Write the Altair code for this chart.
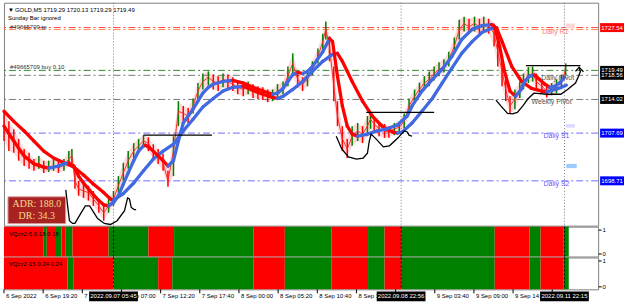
import altair as alt
import pandas as pd

# ---------------- data ----------------
# price samples (bar index of 5-minute bars, prices)
c_bar = [0, 8, 16, 24, 33, 41, 49, 57, 65, 73,
         81, 89, 98, 106, 111, 116, 122, 130, 138, 146,
         155, 163, 171, 179, 187, 195, 203, 212, 220, 228,
         236, 244, 252, 260, 268, 277, 285, 293, 301, 309,
         317, 325, 334, 342, 350, 358, 366, 374, 382, 391,
         399, 407, 415, 423, 431, 439, 447, 456, 464, 472,
         480, 488, 496, 504, 513, 521, 526, 532, 539, 545,
         553, 561, 569, 578, 586, 594, 599, 605, 613, 622,
         629, 638, 646, 654, 662, 671, 679, 687, 695, 703,
         711, 719, 727, 736, 744, 752, 760, 769, 777, 784,
         792, 801, 807, 814, 820, 827, 835, 843, 849, 857,
         864, 870, 879, 887, 895, 903, 911, 918]
c_close = [1709.0, 1707.1, 1706.2, 1704.3, 1703.0, 1702.5, 1701.5, 1702.1, 1701.1, 1701.3,
           1701.5, 1701.1, 1701.7, 1702.8, 1703.4, 1698.7, 1697.2, 1696.8, 1696.5, 1695.3,
           1694.0, 1692.7, 1694.0, 1695.3, 1697.8, 1700.2, 1702.5, 1704.3, 1705.3, 1706.2,
           1705.8, 1704.3, 1703.4, 1702.1, 1698.7, 1704.3, 1711.8, 1711.4, 1710.9, 1712.8,
           1715.6, 1717.4, 1718.2, 1717.4, 1717.1, 1717.8, 1717.4, 1716.9, 1716.3, 1715.9,
           1716.3, 1715.6, 1715.2, 1715.0, 1714.6, 1714.6, 1715.6, 1716.1, 1718.4, 1720.8,
           1717.8, 1716.9, 1717.8, 1719.9, 1722.1, 1724.9, 1727.2, 1724.0, 1716.5, 1710.9,
           1706.6, 1704.7, 1707.1, 1708.1, 1707.5, 1709.0, 1710.3, 1709.4, 1708.5, 1708.1,
           1707.9, 1708.5, 1708.8, 1709.9, 1712.8, 1714.6, 1715.9, 1717.1, 1717.8, 1718.9,
           1719.7, 1720.2, 1721.6, 1724.0, 1727.2, 1728.3, 1727.7, 1728.3, 1727.7, 1728.3,
           1727.9, 1726.4, 1723.0, 1719.3, 1715.9, 1712.8, 1714.1, 1715.9, 1717.4, 1718.6,
           1718.9, 1717.4, 1716.5, 1715.6, 1715.9, 1716.5, 1717.4, 1719.5]
c_hi = [1711.8, 1709.9, 1708.4, 1706.6, 1704.7, 1704.0, 1702.8, 1703.4, 1702.5, 1702.5,
        1702.8, 1702.5, 1702.8, 1704.3, 1704.7, 1701.5, 1698.7, 1698.3, 1697.8, 1696.8,
        1695.3, 1694.0, 1695.3, 1696.8, 1699.6, 1702.1, 1704.3, 1705.8, 1706.6, 1707.3,
        1706.9, 1705.6, 1704.7, 1703.8, 1700.6, 1707.1, 1713.7, 1712.8, 1712.4, 1714.2,
        1717.1, 1718.9, 1719.3, 1718.7, 1718.4, 1718.9, 1718.7, 1718.2, 1717.6, 1717.4,
        1717.4, 1716.9, 1716.5, 1716.3, 1715.9, 1715.9, 1716.9, 1717.4, 1720.2, 1722.7,
        1719.3, 1718.2, 1719.3, 1721.2, 1723.6, 1726.4, 1728.7, 1725.9, 1720.2, 1713.7,
        1709.0, 1706.6, 1709.0, 1709.6, 1709.0, 1710.9, 1711.4, 1710.7, 1709.8, 1709.4,
        1709.0, 1709.6, 1709.9, 1711.4, 1714.2, 1715.9, 1717.2, 1718.4, 1719.3, 1720.2,
        1721.0, 1721.6, 1723.0, 1725.7, 1729.0, 1729.6, 1729.2, 1729.6, 1729.2, 1729.6,
        1729.2, 1728.3, 1724.9, 1722.1, 1718.4, 1714.6, 1715.9, 1717.4, 1718.9, 1720.1,
        1720.2, 1718.9, 1717.8, 1716.9, 1717.1, 1717.8, 1718.7, 1720.8]
c_lo = [1706.2, 1704.3, 1704.0, 1702.5, 1701.5, 1701.0, 1700.6, 1701.0, 1700.2, 1700.4,
        1700.6, 1700.2, 1700.6, 1701.5, 1702.1, 1697.2, 1695.9, 1695.5, 1695.0, 1694.0,
        1692.7, 1691.2, 1692.7, 1694.0, 1696.5, 1698.7, 1701.0, 1702.8, 1704.0, 1705.1,
        1704.3, 1702.8, 1701.9, 1700.6, 1697.6, 1699.6, 1709.0, 1709.9, 1709.6, 1711.4,
        1714.1, 1715.9, 1716.7, 1715.9, 1715.6, 1716.3, 1715.9, 1715.6, 1715.0, 1714.6,
        1715.0, 1714.3, 1714.1, 1713.9, 1713.5, 1713.7, 1714.3, 1715.0, 1716.5, 1718.4,
        1716.3, 1715.6, 1716.5, 1718.6, 1720.8, 1723.1, 1725.3, 1721.2, 1713.7, 1709.0,
        1704.3, 1703.0, 1705.3, 1706.2, 1705.8, 1707.1, 1708.5, 1707.7, 1707.1, 1706.8,
        1706.8, 1707.3, 1707.7, 1708.6, 1711.3, 1713.3, 1714.6, 1715.7, 1716.5, 1717.6,
        1718.4, 1719.1, 1720.2, 1722.7, 1725.3, 1726.8, 1726.4, 1726.8, 1726.2, 1726.8,
        1726.4, 1724.0, 1720.2, 1716.5, 1713.7, 1711.4, 1712.2, 1714.3, 1715.9, 1717.1,
        1717.4, 1715.9, 1715.2, 1714.4, 1714.8, 1715.2, 1716.1, 1718.6]

# fast moving average (colour follows its slope)
f_bar = [0, 16, 33, 49, 65, 73, 81, 89, 98, 106,
         114, 122, 130, 138, 146, 155, 163, 171, 179, 187,
         195, 203, 212, 220, 228, 231, 236, 244, 252, 260,
         268, 277, 285, 293, 301, 309, 317, 325, 334, 342,
         358, 374, 391, 407, 423, 439, 447, 456, 464, 472,
         480, 488, 496, 504, 521, 532, 537, 545, 553, 561,
         569, 578, 586, 594, 610, 626, 643, 659, 667, 683,
         700, 716, 732, 748, 765, 781, 797, 802, 810, 818,
         827, 836, 845, 851, 859, 867, 875, 884, 892, 900,
         908, 916]
f_val = [1709.0, 1706.2, 1703.4, 1701.9, 1701.3, 1701.1, 1701.3, 1701.5, 1701.9, 1702.1,
         1701.5, 1699.6, 1698.3, 1697.2, 1696.1, 1695.0, 1694.2, 1694.0, 1694.6, 1695.9,
         1698.1, 1700.2, 1702.5, 1704.3, 1705.3, 1705.4, 1705.1, 1704.3, 1703.4, 1702.5,
         1701.5, 1702.5, 1706.2, 1709.6, 1710.9, 1712.2, 1713.7, 1715.2, 1716.3, 1716.9,
         1717.4, 1717.6, 1717.1, 1716.3, 1715.6, 1715.0, 1715.2, 1716.1, 1717.4, 1718.7,
         1719.1, 1718.9, 1719.3, 1720.2, 1723.0, 1725.5, 1724.9, 1718.4, 1712.8, 1709.0,
         1707.5, 1707.1, 1707.3, 1707.5, 1708.1, 1708.5, 1709.2, 1710.9, 1712.8, 1715.6,
         1717.8, 1719.7, 1722.1, 1725.3, 1727.2, 1727.9, 1728.1, 1727.7, 1724.0, 1719.3,
         1715.6, 1714.6, 1715.9, 1717.4, 1718.4, 1718.6, 1717.8, 1716.9, 1716.3, 1716.5,
         1717.1, 1718.2]

# slow moving average
s_bar = [0, 16, 33, 49, 65, 81, 98, 114, 130, 146,
         163, 174, 179, 195, 212, 228, 244, 260, 277, 293,
         309, 325, 342, 358, 374, 391, 407, 423, 439, 447,
         456, 472, 488, 504, 521, 537, 545, 553, 569, 586,
         602, 618, 635, 643, 651, 667, 683, 700, 716, 732,
         748, 765, 781, 797, 805, 814, 830, 846, 862, 879,
         887, 895, 911, 919]
s_val = [1711.8, 1709.9, 1708.1, 1706.2, 1704.3, 1703.0, 1702.1, 1701.3, 1699.8, 1698.1,
         1696.5, 1695.3, 1695.1, 1696.3, 1698.3, 1700.6, 1702.8, 1704.3, 1705.6, 1708.1,
         1710.3, 1712.6, 1714.2, 1715.6, 1716.3, 1716.5, 1715.7, 1715.0, 1714.4, 1714.2,
         1714.6, 1715.9, 1717.4, 1719.3, 1721.2, 1722.5, 1722.7, 1721.2, 1717.4, 1713.7,
         1710.9, 1709.0, 1707.9, 1707.7, 1707.9, 1709.6, 1711.8, 1714.2, 1717.1, 1719.9,
         1722.7, 1724.9, 1726.6, 1727.4, 1727.5, 1724.9, 1720.2, 1717.4, 1716.1, 1715.6,
         1715.5, 1715.7, 1716.3, 1716.7]

# horizontal levels
lvl_name = ["Daily R1", "TP", "Buy", "Daily Pivot", "Weekly Pivot", "Daily S1", "Daily S2"]
lvl_price = [1727.54, 1727.17, 1719.49, 1718.56, 1714.02, 1707.69, 1698.71]

# level captions on the chart
cap_text = ["Daily R1", "Daily Pivot", "Weekly Pivot", "Daily S1", "Daily S2"]
cap_bar = [901, 905, 895, 903, 903]
cap_price = [1726.8, 1718.0, 1713.5, 1707.1, 1698.1]

# price tags on the right scale
tag_price = [1727.54, 1719.49, 1718.56, 1714.02, 1707.69, 1698.71]
tag_kind = ["R1", "bid", "pivot", "weekly", "S1", "S2"]

# price scale ticks
y_ticks = [1728.40, 1724.60, 1720.80, 1717.00, 1713.20, 1709.50, 1705.70, 1701.90, 1698.10, 1694.40, 1690.60]

# hand drawings (trend-line objects)
d1_bar = [101, 104, 107, 112, 116, 125, 133, 140, 153, 164, 174, 185, 197, 202, 205, 208, 213, 216]
d1_val = [1697.0, 1694.0, 1691.2, 1690.7, 1690.7, 1692.5, 1694.0, 1694.0, 1691.6, 1690.7, 1690.5, 1691.2,
          1693.1, 1695.5, 1695.3, 1693.7, 1693.3, 1693.3]
d2_bar = [543, 552, 563, 576, 587, 594, 597, 600, 608, 620, 630, 644, 654, 659, 662, 667]
d2_val = [1707.1, 1704.7, 1703.2, 1702.8, 1703.0, 1703.9, 1706.2, 1707.5, 1706.6, 1705.1, 1705.3,
          1706.8, 1708.1, 1707.9, 1707.3, 1707.1]
d3_bar = [804, 812, 823, 831, 839, 848, 856, 866, 888, 910, 921, 934, 939, 942, 940]
d3_val = [1713.9, 1712.8, 1711.4, 1711.3, 1711.6, 1712.8, 1714.1, 1715.2, 1715.0, 1715.0, 1715.9,
          1717.1, 1718.4, 1719.3, 1719.9]
d4_bar = [934, 940, 947]
d4_val = [1719.3, 1720.1, 1719.2]
hl_bar1 = [228, 592, 853]
hl_bar2 = [340, 703, 942]
hl_val = [1707.3, 1711.6, 1720.4]

# small rectangles near the right edge
box_bar1 = [918, 918, 919]
box_bar2 = [933, 933, 936]
box_top = [1728.3, 1709.4, 1701.9]
box_bot = [1727.4, 1708.7, 1701.1]
box_kind = ["pink", "lavender", "lightblue"]

# vertical line objects
vl_bar = [179, 649, 916]
vl_text = ["2022.09.07 05:45", "2022.09.08 22:56", "2022.09.11 22:15"]

# time axis (labels fully hidden under the vertical-line time boxes are left empty)
x_ticks = [0, 64, 128, 192, 256, 320, 384, 448, 512, 576, 640, 704, 768, 832, 896]
x_labels = ["6 Sep 2022", "6 Sep 19:20", "7 Sep 01:40", "7 Sep 07:00", "7 Sep 12:20", "7 Sep 17:40",
            "8 Sep 00:00", "8 Sep 05:20", "8 Sep 10:40", "8 Sep 16:00", "", "9 Sep 03:40",
            "9 Sep 09:00", "9 Sep 14:20", ""]

# indicator sub-windows: state change bars and state
s1_edges = [0, 65, 70, 85, 94, 101, 112, 171, 236, 278, 408, 459, 535, 595, 622, 649, 802, 859, 877, 914, 923]
s1_state = ["dn", "up", "dn", "up", "dn", "up", "dn", "up", "dn", "up",
            "dn", "up", "dn", "up", "dn", "up", "dn", "up", "dn", "up"]
s2_edges = [0, 104, 114, 179, 252, 275, 408, 459, 535, 595, 622, 649, 802, 859, 877, 914, 923]
s2_state = ["dn", "up", "dn", "up", "dn", "up", "dn", "up", "dn", "up", "dn", "up", "dn", "up", "dn", "up"]

top_text = "GOLD,M5  1719.29 1720.13 1719.29 1719.49"
adr_lines = ["ADR: 188.0", "DR: 34.3"]

# ---------------- styling ----------------
W, H_MAIN, H_S1, H_S2 = 597, 224, 30, 32
FONT = "Liberation Sans"
RED, GREEN, BLUE = "#ff0000", "#008000", "#4169e1"
XS = alt.Scale(domain=[0, 971], nice=False, zero=False)
YS = alt.Scale(domain=[1690.28, 1732.22], nice=False, zero=False)
LVL_COL = {"Daily R1": "#ff3b3b", "TP": "#ff8a4c", "Buy": "#2e8b2e", "Daily Pivot": "#7a7a7a",
           "Weekly Pivot": "#7a7a7a", "Daily S1": "#6b6bff", "Daily S2": "#6b6bff"}
CAP_COL = {"Daily R1": "#ff7a7a", "Daily Pivot": "#555555", "Weekly Pivot": "#555555",
           "Daily S1": "#5b5bff", "Daily S2": "#5b5bff"}
TAG_COL = {"R1": "#ff0000", "bid": "#000000", "pivot": "#000000", "weekly": "#000000",
           "S1": "#0000ff", "S2": "#0000ff"}
BOX_COL = {"pink": "#ffd6d6", "lavender": "#dcdcff", "lightblue": "#9ccaff"}
STATE_COL = {"up": GREEN, "dn": RED}
DASHDOT = [7, 3, 2, 3]

# ---------------- tables ----------------
cdf = pd.DataFrame({"bar": c_bar, "hi": c_hi, "lo": c_lo, "close": c_close})
cdf["col"] = [GREEN if i > 0 and c_close[i] >= c_close[i - 1] else RED for i in range(len(c_close))]


def seg_frame(bars, vals):
    rows = []
    for i in range(len(bars) - 1):
        rows.append({"x": bars[i], "x2": bars[i + 1], "y": vals[i], "y2": vals[i + 1],
                     "col": BLUE if vals[i + 1] >= vals[i] else RED})
    return pd.DataFrame(rows)


slow_df = seg_frame(s_bar, s_val)
fast_df = seg_frame(f_bar, f_val)

lvl_df = pd.DataFrame({"name": lvl_name, "price": lvl_price})
lvl_df["col"] = lvl_df["name"].map(LVL_COL)
cap_df = pd.DataFrame({"text": cap_text, "bar": cap_bar, "price": cap_price})
cap_df["col"] = cap_df["text"].map(CAP_COL)
tag_df = pd.DataFrame({"price": tag_price, "kind": tag_kind})
tag_df["col"] = tag_df["kind"].map(TAG_COL)
tag_df["label"] = [f"{p:.2f}" for p in tag_price]

draw_rows = []
for gid, (bs, vs) in enumerate([(d1_bar, d1_val), (d2_bar, d2_val), (d3_bar, d3_val), (d4_bar, d4_val)]):
    for k, (b, v) in enumerate(zip(bs, vs)):
        draw_rows.append({"g": gid, "k": k, "bar": b, "price": v})
for j in range(len(hl_val)):
    draw_rows.append({"g": 10 + j, "k": 0, "bar": hl_bar1[j], "price": hl_val[j]})
    draw_rows.append({"g": 10 + j, "k": 1, "bar": hl_bar2[j], "price": hl_val[j]})
draw_df = pd.DataFrame(draw_rows)

box_df = pd.DataFrame({"b1": box_bar1, "b2": box_bar2, "top": box_top, "bot": box_bot, "kind": box_kind})
box_df["col"] = box_df["kind"].map(BOX_COL)

vl_df = pd.DataFrame({"bar": vl_bar, "text": vl_text})
xt_df = pd.DataFrame({"bar": x_ticks, "label": x_labels})
xt_lab_df = xt_df[xt_df["label"] != ""]


def state_frame(edges, states):
    return pd.DataFrame({"start": edges[:-1], "end": edges[1:],
                         "col": [STATE_COL[s] for s in states]})


one = pd.DataFrame({"t": [0]})

# ---------------- main window ----------------
y_axis = alt.Axis(orient="right", values=y_ticks, format=".2f", labelFont=FONT, labelFontSize=6,
                  labelColor="#000000", tickColor="#000000", tickSize=3, labelPadding=1,
                  domain=False, grid=False, labelOverlap=False, labelFlush=False)

levels = alt.Chart(lvl_df).mark_rule(strokeDash=DASHDOT, strokeWidth=1).encode(
    y=alt.Y("price:Q", scale=YS, axis=y_axis, title=None),
    color=alt.Color("col:N", scale=None))

vlines = alt.Chart(vl_df).mark_rule(strokeDash=[1, 2], color="#7a7a7a", strokeWidth=1).encode(
    x=alt.X("bar:Q", scale=XS, axis=None))

boxes = alt.Chart(box_df).mark_rect().encode(
    x=alt.X("b1:Q", scale=XS, axis=None), x2="b2:Q",
    y=alt.Y("top:Q", scale=YS, axis=None), y2="bot:Q",
    color=alt.Color("col:N", scale=None))

band = alt.Chart(cdf).mark_area(color="#ff5050", opacity=0.22).encode(
    x=alt.X("bar:Q", scale=XS, axis=None),
    y=alt.Y("lo:Q", scale=YS, axis=None), y2="hi:Q")

candles = alt.Chart(cdf).mark_rule(strokeWidth=1.5).encode(
    x=alt.X("bar:Q", scale=XS, axis=None),
    y=alt.Y("lo:Q", scale=YS, axis=None), y2="hi:Q",
    color=alt.Color("col:N", scale=None))

thin = alt.Chart(cdf).mark_line(color="#ff2020", strokeWidth=1, opacity=0.9).encode(
    x=alt.X("bar:Q", scale=XS, axis=None),
    y=alt.Y("close:Q", scale=YS, axis=None))


def ma_layer(df):
    return alt.Chart(df).mark_rule(strokeWidth=3.3, strokeCap="round").encode(
        x=alt.X("x:Q", scale=XS, axis=None), x2="x2:Q",
        y=alt.Y("y:Q", scale=YS, axis=None), y2="y2:Q",
        color=alt.Color("col:N", scale=None))


drawings = alt.Chart(draw_df).mark_line(color="#000000", strokeWidth=1.3).encode(
    x=alt.X("bar:Q", scale=XS, axis=None),
    y=alt.Y("price:Q", scale=YS, axis=None),
    detail="g:N", order="k:Q")

captions = alt.Chart(cap_df).mark_text(font=FONT, fontSize=7, align="center", baseline="middle").encode(
    x=alt.X("bar:Q", scale=XS, axis=None),
    y=alt.Y("price:Q", scale=YS, axis=None),
    text="text:N", color=alt.Color("col:N", scale=None))

top_arrow = alt.Chart(one).mark_text(text="▼", fontSize=6, align="left", baseline="middle",
                                     color="#000000").encode(x=alt.value(4), y=alt.value(7))
top_label = alt.Chart(one).mark_text(text=top_text, font=FONT, fontSize=6, align="left",
                                     baseline="middle", color="#000000").encode(x=alt.value(11), y=alt.value(7))
sunday = alt.Chart(one).mark_text(text="Sunday Bar ignored", font=FONT, fontSize=6, align="left",
                                  baseline="middle", color="#000000").encode(x=alt.value(4), y=alt.value(15))
tp_lbl = alt.Chart(one).mark_text(text="#49665709 tp", font=FONT, fontSize=6, align="left",
                                  baseline="middle", color="#303030").encode(x=alt.value(6), y=alt.value(24))
buy_lbl = alt.Chart(one).mark_text(text="#49665709 buy 0.10", font=FONT, fontSize=6, align="left",
                                   baseline="middle", color="#303030").encode(x=alt.value(6), y=alt.value(65))

adr_box = alt.Chart(one).mark_rect(color="#a82222", stroke="#d9a0a0", strokeWidth=1).encode(
    x=alt.value(4), x2=alt.value(62), y=alt.value(195), y2=alt.value(222))
adr_t1 = alt.Chart(one).mark_text(text=adr_lines[0], font="Liberation Serif", fontSize=10,
                                  color="#f2d98c", align="center", baseline="middle").encode(
    x=alt.value(33), y=alt.value(202))
adr_t2 = alt.Chart(one).mark_text(text=adr_lines[1], font="Liberation Serif", fontSize=10,
                                  color="#f2d98c", align="center", baseline="middle").encode(
    x=alt.value(33), y=alt.value(214))

tags = alt.Chart(tag_df).mark_point(shape="M-1,-0.375H1V0.375H-1Z", filled=True, size=576,
                                    opacity=1, strokeWidth=0).encode(
    x=alt.value(611), y=alt.Y("price:Q", scale=YS, axis=None),
    color=alt.Color("col:N", scale=None))
tag_text = alt.Chart(tag_df).mark_text(font=FONT, fontSize=6, color="#ffffff", align="center",
                                       baseline="middle").encode(
    x=alt.value(611), y=alt.Y("price:Q", scale=YS, axis=None), text="label:N")

main = alt.layer(levels, vlines, boxes, band, candles, thin, ma_layer(slow_df), ma_layer(fast_df),
                 drawings, captions, top_arrow, top_label, sunday, tp_lbl, buy_lbl,
                 adr_box, adr_t1, adr_t2, tags, tag_text).properties(width=W, height=H_MAIN)


# ---------------- indicator windows ----------------
def sub_window(edges, states, title, h, with_time=False):
    sdf = state_frame(edges, states)
    rects = alt.Chart(sdf).mark_rect().encode(
        x=alt.X("start:Q", scale=XS, axis=None), x2="end:Q",
        y=alt.value(0), y2=alt.value(h),
        color=alt.Color("col:N", scale=None))
    ax = alt.Chart(pd.DataFrame({"v": [0, 1]})).mark_point(opacity=0).encode(
        y=alt.Y("v:Q", scale=alt.Scale(domain=[-0.125, 1.125], nice=False, zero=False),
                axis=alt.Axis(orient="right", values=[0, 1], format="d", labelFont=FONT,
                              labelFontSize=6, labelColor="#000000", tickColor="#000000",
                              tickSize=3, labelPadding=1, domain=False, grid=False),
                title=None))
    vl = alt.Chart(vl_df).mark_rule(strokeDash=[2, 2], color="#000000", strokeWidth=1).encode(
        x=alt.X("bar:Q", scale=XS, axis=None), y=alt.value(0), y2=alt.value(h))
    lbl = alt.Chart(one).mark_text(text=title, font=FONT, fontSize=6, align="left",
                                   baseline="middle", color="#000000").encode(
        x=alt.value(5), y=alt.value(7))
    layers = [rects, ax, vl, lbl]
    if with_time:
        ticks = alt.Chart(xt_df).mark_rule(color="#000000", strokeWidth=1).encode(
            x=alt.X("bar:Q", scale=XS, axis=None), y=alt.value(h), y2=alt.value(h + 4))
        tlab = alt.Chart(xt_lab_df).mark_text(font=FONT, fontSize=6, color="#000000", align="left",
                                              baseline="middle", dx=2).encode(
            x=alt.X("bar:Q", scale=XS, axis=None), y=alt.value(h + 7), text="label:N")
        dbox = alt.Chart(vl_df).mark_point(shape="M-1,-0.2H1V0.2H-1Z", filled=True, size=2401,
                                           opacity=1, strokeWidth=0, color="#000000").encode(
            x=alt.X("bar:Q", scale=XS, axis=None), y=alt.value(h + 7))
        dtxt = alt.Chart(vl_df).mark_text(font=FONT, fontSize=6, color="#ffffff", align="center",
                                          baseline="middle").encode(
            x=alt.X("bar:Q", scale=XS, axis=None), y=alt.value(h + 7), text="text:N")
        layers += [ticks, tlab, dbox, dtxt]
    return alt.layer(*layers).properties(width=W, height=h)


sub1 = sub_window(s1_edges, s1_state, "VQzz2-5 0.18 0.18", H_S1)
sub2 = sub_window(s2_edges, s2_state, "VQzz2-15 0.24 0.24", H_S2, with_time=True)

chart = alt.vconcat(main, sub1, sub2, spacing=1, bounds="flush").properties(
    padding={"left": 1, "top": 1, "right": 0, "bottom": 0}, background="#ffffff"
).configure_view(stroke="#808080", strokeWidth=1)

chart.save("out.html", embed_options={"renderer": "svg", "actions": False})
